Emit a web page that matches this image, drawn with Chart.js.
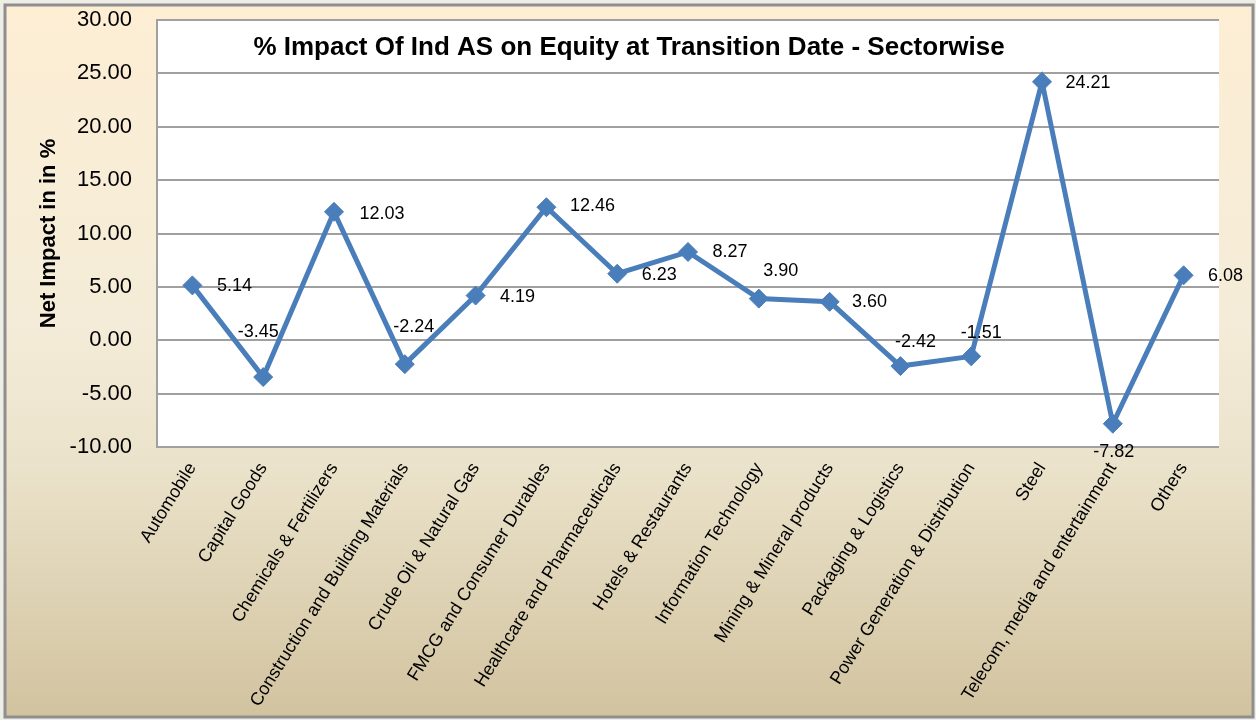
<!DOCTYPE html>
<html>
<head>
<meta charset="utf-8">
<script src="https://cdn.jsdelivr.net/npm/chart.js@4.4.1/dist/chart.umd.min.js"></script>
<style>
  html, body { margin: 0; padding: 0; background: #EEEDE6; }
  #wrap { position: absolute; left: 0; top: 0; width: 1256px; height: 720px; }
</style>
</head>
<body>
<div id="wrap"><canvas id="c" width="1256" height="720"></canvas></div>
<script>
// ---- data ----
const categories = [
  'Automobile', 'Capital Goods', 'Chemicals & Fertilizers', 'Construction and Building Materials',
  'Crude Oil & Natural Gas', 'FMCG and Consumer Durables', 'Healthcare and Pharmaceuticals',
  'Hotels & Restaurants', 'Information Technology', 'Mining & Mineral products',
  'Packaging & Logistics', 'Power Generation & Distribution', 'Steel',
  'Telecom, media and entertainment', 'Others'
];
const impactValues = [5.14, -3.45, 12.03, -2.24, 4.19, 12.46, 6.23, 8.27, 3.90, 3.60, -2.42, -1.51, 24.21, -7.82, 6.08];
const yTickValues = [-10, -5, 0, 5, 10, 15, 20, 25, 30];
const chartTitle = '% Impact Of Ind AS on Equity at Transition Date - Sectorwise';
const yAxisTitle = 'Net Impact in in %';

// ---- font detection ----
function installed(name) {
  const ctx = document.createElement('canvas').getContext('2d');
  const s = 'abcdefghijklmnopqrstuvwxyz0123456789ABCDEFGHIJ';
  ctx.font = '40px monospace'; const a = ctx.measureText(s).width;
  ctx.font = '40px "' + name + '", monospace'; const b = ctx.measureText(s).width;
  ctx.font = '40px serif'; const c = ctx.measureText(s).width;
  ctx.font = '40px "' + name + '", serif'; const d = ctx.measureText(s).width;
  return a !== b || c !== d;
}
let F;
if (installed('Liberation Sans Narrow')) {
  F = { fam: '"Liberation Sans Narrow", "Liberation Sans", Arial, sans-serif', title: 31, yTick: 25, yTitle: 24, xTick: 22, label: 19 };
} else if (installed('Arial Narrow')) {
  F = { fam: '"Arial Narrow", "Liberation Sans", Arial, sans-serif', title: 31, yTick: 25, yTitle: 24, xTick: 22, label: 19 };
} else {
  F = { fam: '"Liberation Sans", Arial, sans-serif', title: 26, yTick: 22, yTitle: 22, xTick: 18, label: 18 };
}

const bgPlugin = {
  id: 'bg',
  beforeDraw(chart) {
    const { ctx, chartArea: a } = chart;
    ctx.save();
    ctx.fillStyle = '#EEEDE6';
    ctx.fillRect(0, 0, chart.width, chart.height);
    const g = ctx.createLinearGradient(0, 5, 0, 717);
    g.addColorStop(0, '#FDEED4');
    g.addColorStop(0.45, '#F4ECD8');
    g.addColorStop(0.65, '#EAE2CA');
    g.addColorStop(1, '#D2C39F');
    ctx.fillStyle = g;
    ctx.fillRect(5, 5, 1248, 712);
    ctx.strokeStyle = '#8E8E8E';
    ctx.lineWidth = 3;
    ctx.strokeRect(5, 5, 1248, 712);
    ctx.fillStyle = '#FFFFFF';
    ctx.fillRect(a.left, a.top, a.right - a.left, a.bottom - a.top);
    ctx.restore();
  }
};

const labelOffsets = [[42,1],[-5,-45],[48,2],[9,-37],[42,2],[46,-1],[42,1],[42,0],[22,-28],[40,0],[15,-24],[10,-23],[46,1],[1,28],[42,1]];

const labelPlugin = {
  id: 'labels',
  afterDraw(chart) {
    const { ctx } = chart;
    const meta = chart.getDatasetMeta(0);
    ctx.save();
    ctx.fillStyle = '#000';
    ctx.font = F.label + 'px ' + F.fam;
    ctx.textAlign = 'center';
    ctx.textBaseline = 'middle';
    meta.data.forEach((pt, i) => {
      const o = labelOffsets[i];
      ctx.fillText(impactValues[i].toFixed(2), pt.x + o[0], pt.y + o[1]);
    });
    ctx.font = 'bold ' + F.title + 'px ' + F.fam;
    ctx.textBaseline = 'alphabetic';
    ctx.fillText(chartTitle, 629, 55);
    ctx.restore();
  }
};

new Chart(document.getElementById('c'), {
  type: 'line',
  data: {
    labels: categories,
    datasets: [{
      data: impactValues,
      borderColor: '#4A7EBB',
      backgroundColor: '#4A7EBB',
      borderWidth: 5,
      pointStyle: 'rectRot',
      pointRadius: 9.5,
      pointHoverRadius: 9.5,
      pointBorderWidth: 1,
      pointBorderColor: '#4A7EBB',
      pointBackgroundColor: '#4A7EBB',
      tension: 0,
      fill: false
    }]
  },
  options: {
    responsive: false,
    animation: false,
    devicePixelRatio: 1,
    layout: { padding: { left: 0, right: 37, top: 20, bottom: 0 } },
    plugins: { legend: { display: false }, tooltip: { enabled: false }, title: { display: false } },
    scales: {
      x: {
        offset: true,
        grid: { display: false, drawTicks: false },
        border: { display: false },
        ticks: {
          autoSkip: false, maxRotation: 58, minRotation: 58, padding: 12,
          color: '#000', font: { family: F.fam, size: F.xTick }
        },
        afterFit(s) { s.height = 720 - 447; s.paddingLeft = 0; s.paddingRight = 0; }
      },
      y: {
        min: -10, max: 30,
        afterBuildTicks(s) { s.ticks = yTickValues.map(v => ({ value: v })); },
        grid: { color: '#A0A0A0', lineWidth: 2, drawTicks: false },
        border: { display: true, color: '#A0A0A0', width: 2 },
        ticks: {
          padding: 25, color: '#000', font: { family: F.fam, size: F.yTick },
          callback: v => Number(v).toFixed(2)
        },
        title: {
          display: true, text: yAxisTitle, color: '#000',
          font: { family: F.fam, size: F.yTitle, weight: 'bold' },
          padding: { top: 36, bottom: 0 }
        },
        afterFit(s) { s.width = 157; s.paddingTop = 0; s.paddingBottom = 0; }
      }
    }
  },
  plugins: [bgPlugin, labelPlugin]
});
</script>
</body>
</html>
